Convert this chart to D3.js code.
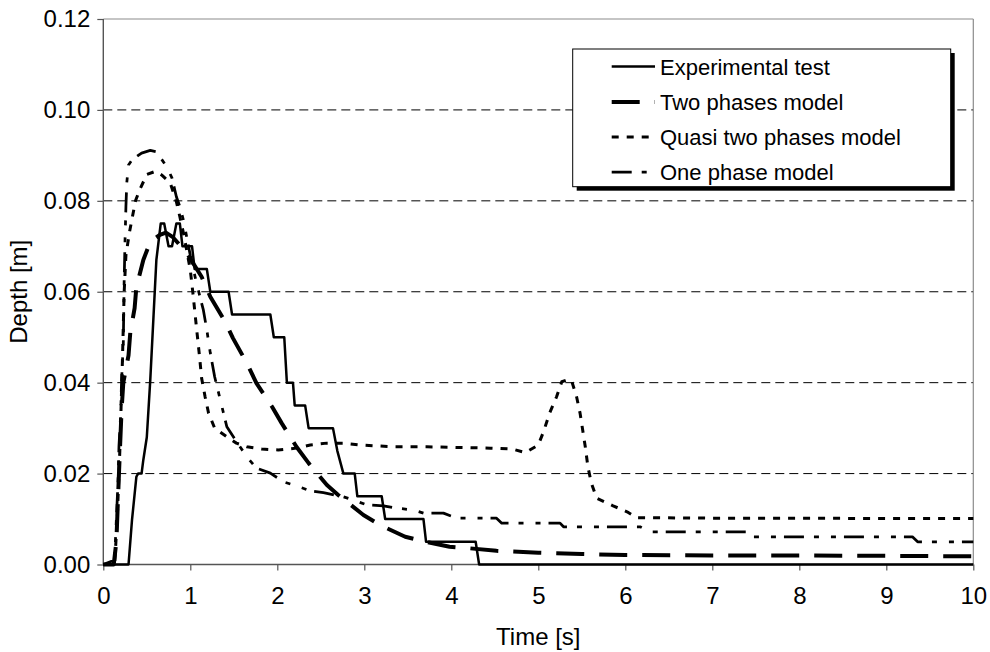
<!DOCTYPE html>
<html>
<head>
<meta charset="utf-8">
<script src="https://cdn.jsdelivr.net/npm/d3@7"></script>
<style>
  html, body { margin: 0; padding: 0; background: #fff; }
  svg { display: block; font-family: Arial, "Liberation Sans", sans-serif; }
</style>
</head>
<body>
<svg id="chart" width="990" height="652"></svg>
<script>
// ---------- data ----------
const seriesNames = ["Experimental test", "Two phases model", "Quasi two phases model", "One phase model"];

const expT = [0, 0.29, 0.33, 0.38, 0.40, 0.44, 0.46, 0.50, 0.54, 0.61, 0.66, 0.70, 0.75, 0.79, 0.84, 0.88, 0.91, 1.02, 1.05, 1.19, 1.23, 1.44, 1.48, 1.92, 1.96, 2.08, 2.11, 2.18, 2.20, 2.32, 2.36, 2.64, 2.69, 2.76, 2.89, 2.92, 3.20, 3.24, 3.68, 3.71, 4.28, 4.32, 10];
const expD = [0, 0, 0.0098, 0.0193, 0.020, 0.020, 0.023, 0.028, 0.0406, 0.067, 0.075, 0.075, 0.070, 0.070, 0.075, 0.075, 0.070, 0.070, 0.065, 0.065, 0.060, 0.060, 0.055, 0.055, 0.050, 0.050, 0.040, 0.040, 0.035, 0.035, 0.030, 0.030, 0.025, 0.020, 0.020, 0.015, 0.015, 0.010, 0.010, 0.005, 0.005, 0, 0];

const twoT = [0, 0.12, 0.15, 0.18, 0.21, 0.23, 0.29, 0.31, 0.36, 0.38, 0.46, 0.54, 0.65, 0.72, 0.80, 0.96, 1.13, 1.23, 1.40, 1.49, 1.65, 1.76, 1.94, 2.05, 2.22, 2.36, 2.57, 2.70, 2.99, 3.18, 3.47, 3.70, 3.98, 4.19, 4.52, 5.0, 5.5, 6.0, 7.0, 8.0, 9.0, 10];
const twoD = [0, 0, 0.005, 0.020, 0.034, 0.040, 0.046, 0.051, 0.0564, 0.061, 0.067, 0.071, 0.0725, 0.073, 0.072, 0.0685, 0.0633, 0.0589, 0.0534, 0.0498, 0.0443, 0.0399, 0.0347, 0.0311, 0.0259, 0.0223, 0.0175, 0.0153, 0.0109, 0.0087, 0.0061, 0.0050, 0.0039, 0.0036, 0.0030, 0.0026, 0.0023, 0.0021, 0.0020, 0.0020, 0.0019, 0.0018];

const quasiT = [0, 0.13, 0.16, 0.19, 0.22, 0.24, 0.26, 0.30, 0.33, 0.37, 0.42, 0.50, 0.60, 0.67, 0.77, 0.84, 0.88, 0.92, 0.96, 1.00, 1.03, 1.05, 1.07, 1.09, 1.11, 1.13, 1.17, 1.21, 1.28, 1.44, 1.53, 1.65, 1.82, 2.01, 2.22, 2.38, 2.57, 2.76, 2.95, 3.33, 3.72, 4.45, 4.70, 4.85, 5.00, 5.06, 5.13, 5.21, 5.27, 5.33, 5.38, 5.44, 5.48, 5.54, 5.57, 5.61, 5.67, 5.86, 6.02, 6.13, 7.0, 8.0, 9.0, 10];
const quasiD = [0, 0, 0.010, 0.025, 0.045, 0.060, 0.068, 0.073, 0.076, 0.080, 0.0825, 0.0858, 0.0865, 0.0857, 0.0839, 0.0798, 0.0765, 0.073, 0.069, 0.0648, 0.0597, 0.056, 0.0523, 0.0487, 0.045, 0.041, 0.0369, 0.0333, 0.030, 0.0278, 0.0267, 0.0259, 0.0254, 0.0252, 0.0256, 0.0263, 0.0267, 0.0267, 0.0263, 0.0259, 0.0259, 0.0256, 0.0254, 0.0246, 0.0263, 0.0292, 0.0333, 0.0369, 0.0402, 0.0406, 0.0406, 0.0369, 0.0333, 0.0259, 0.0215, 0.0179, 0.0146, 0.0129, 0.0116, 0.0103, 0.0102, 0.0102, 0.0101, 0.0101];

const oneT = [0, 0.13, 0.15, 0.17, 0.18, 0.20, 0.21, 0.23, 0.235, 0.24, 0.25, 0.26, 0.27, 0.29, 0.33, 0.44, 0.54, 0.61, 0.73, 0.79, 0.84, 0.88, 0.92, 0.95, 1.00, 1.07, 1.11, 1.15, 1.19, 1.23, 1.28, 1.42, 1.55, 1.65, 1.76, 1.92, 2.07, 2.22, 2.38, 2.53, 2.76, 2.87, 3.03, 3.22, 3.37, 3.56, 3.68, 3.91, 4.06, 4.52, 4.58, 5.25, 5.29, 6.17, 6.28, 7.40, 7.47, 9.30, 9.36, 10];
const oneD = [0, 0.001, 0.0098, 0.0186, 0.026, 0.033, 0.0405, 0.0487, 0.056, 0.0626, 0.0714, 0.0787, 0.084, 0.0879, 0.089, 0.0905, 0.0911, 0.0908, 0.0875, 0.085, 0.0809, 0.0787, 0.0758, 0.0729, 0.068, 0.062, 0.059, 0.056, 0.0516, 0.0465, 0.0413, 0.0303, 0.0265, 0.0237, 0.0212, 0.0201, 0.0182, 0.0173, 0.0162, 0.0158, 0.0149, 0.0142, 0.0131, 0.0129, 0.0124, 0.0120, 0.0113, 0.0113, 0.0102, 0.0102, 0.0091, 0.0091, 0.0083, 0.0083, 0.0072, 0.0072, 0.0061, 0.0061, 0.0050, 0.0050];

const xTicks = [0, 1, 2, 3, 4, 5, 6, 7, 8, 9, 10];
const yTicks = [0.00, 0.02, 0.04, 0.06, 0.08, 0.10, 0.12];
const xTitle = "Time [s]";
const yTitle = "Depth [m]";

// ---------- styles ----------
const styles = [
  { width: 2.5, dash: null },
  { width: 4, dash: "28,15" },
  { width: 3, dash: "7,8" },
  { width: 2.75, dash: "20,10,5,12,5,8" }
];

const series = [
  expT.map((t, i) => [t, expD[i]]),
  twoT.map((t, i) => [t, twoD[i]]),
  quasiT.map((t, i) => [t, quasiD[i]]),
  oneT.map((t, i) => [t, oneD[i]])
];

// ---------- layout ----------
const svg = d3.select("#chart");
const L = 103.3, R = 973.3, T = 19, B = 564.5;
const x = d3.scaleLinear().domain([0, 10]).range([L, R]);
const y = d3.scaleLinear().domain([0, 0.12]).range([B, T]);

// gridlines
svg.append("g").selectAll("line")
  .data(yTicks.filter(v => v > 0 && v < 0.12))
  .join("line")
  .attr("x1", L).attr("x2", R)
  .attr("y1", d => y(d)).attr("y2", d => y(d))
  .attr("stroke", "#000").attr("stroke-width", 1)
  .attr("stroke-dasharray", "9,5");

// plot border (top & right)
svg.append("line").attr("x1", L).attr("x2", R).attr("y1", T).attr("y2", T)
  .attr("stroke", "#8c8c8c").attr("stroke-width", 1.2);
svg.append("line").attr("x1", R).attr("x2", R).attr("y1", T).attr("y2", B)
  .attr("stroke", "#8c8c8c").attr("stroke-width", 1.2);

// axes
const yAxis = d3.axisLeft(y).tickValues(yTicks).tickFormat(d3.format(".2f"))
  .tickSize(6).tickPadding(7);
const gy = svg.append("g").attr("transform", `translate(${L},0)`).call(yAxis);
const xAxis = d3.axisBottom(x).tickValues(xTicks).tickFormat(d3.format("d"))
  .tickSize(6).tickPadding(16);
const gx = svg.append("g").attr("transform", `translate(0,${B})`).call(xAxis);
[gx, gy].forEach(g => {
  g.select(".domain").remove();
  g.selectAll(".tick line").attr("stroke", "#555").attr("stroke-width", 1.2);
  g.selectAll(".tick text").attr("fill", "#000")
    .style("font-size", "24px").style("font-family", "Arial, 'Liberation Sans', sans-serif");
});
// axis lines
svg.append("line").attr("x1", L).attr("x2", L).attr("y1", T).attr("y2", B)
  .attr("stroke", "#555").attr("stroke-width", 1.4);
svg.append("line").attr("x1", L).attr("x2", R).attr("y1", B).attr("y2", B)
  .attr("stroke", "#555").attr("stroke-width", 1.4);

// axis titles
svg.append("text").attr("x", (L + R) / 2).attr("y", 645)
  .attr("text-anchor", "middle").style("font-size", "24px").text(xTitle);
svg.append("text").attr("transform", `translate(27,${(T + B) / 2}) rotate(-90)`)
  .attr("text-anchor", "middle").style("font-size", "24px").text(yTitle);

// series
const line = d3.line().x(d => x(d[0])).y(d => y(d[1]));
svg.append("g").selectAll("path")
  .data(series)
  .join("path")
  .attr("d", line)
  .attr("fill", "none")
  .attr("stroke", "#000")
  .attr("stroke-width", (d, i) => styles[i].width)
  .attr("stroke-dasharray", (d, i) => styles[i].dash)
  .attr("stroke-linejoin", "round");

// legend
const lg = svg.append("g");
const lx = 572.7, ly = 49, lw = 378, lh = 137.7;
lg.append("rect").attr("x", lx + 4).attr("y", ly + 4).attr("width", lw).attr("height", lh).attr("fill", "#000");
lg.append("rect").attr("x", lx).attr("y", ly).attr("width", lw).attr("height", lh)
  .attr("fill", "#fff").attr("stroke", "#000").attr("stroke-width", 1);
const rowY = [67, 102.5, 137.5, 172.5];
seriesNames.forEach((name, i) => {
  lg.append("line").attr("x1", 611.7).attr("x2", 655).attr("y1", rowY[i] - 0.5).attr("y2", rowY[i] - 0.5)
    .attr("stroke", "#000").attr("stroke-width", styles[i].width)
    .attr("stroke-dasharray", styles[i].dash);
  lg.append("text").attr("x", 660).attr("y", rowY[i]).attr("dy", "0.36em")
    .style("font-size", "22px").text(name);
});
</script>
</body>
</html>
